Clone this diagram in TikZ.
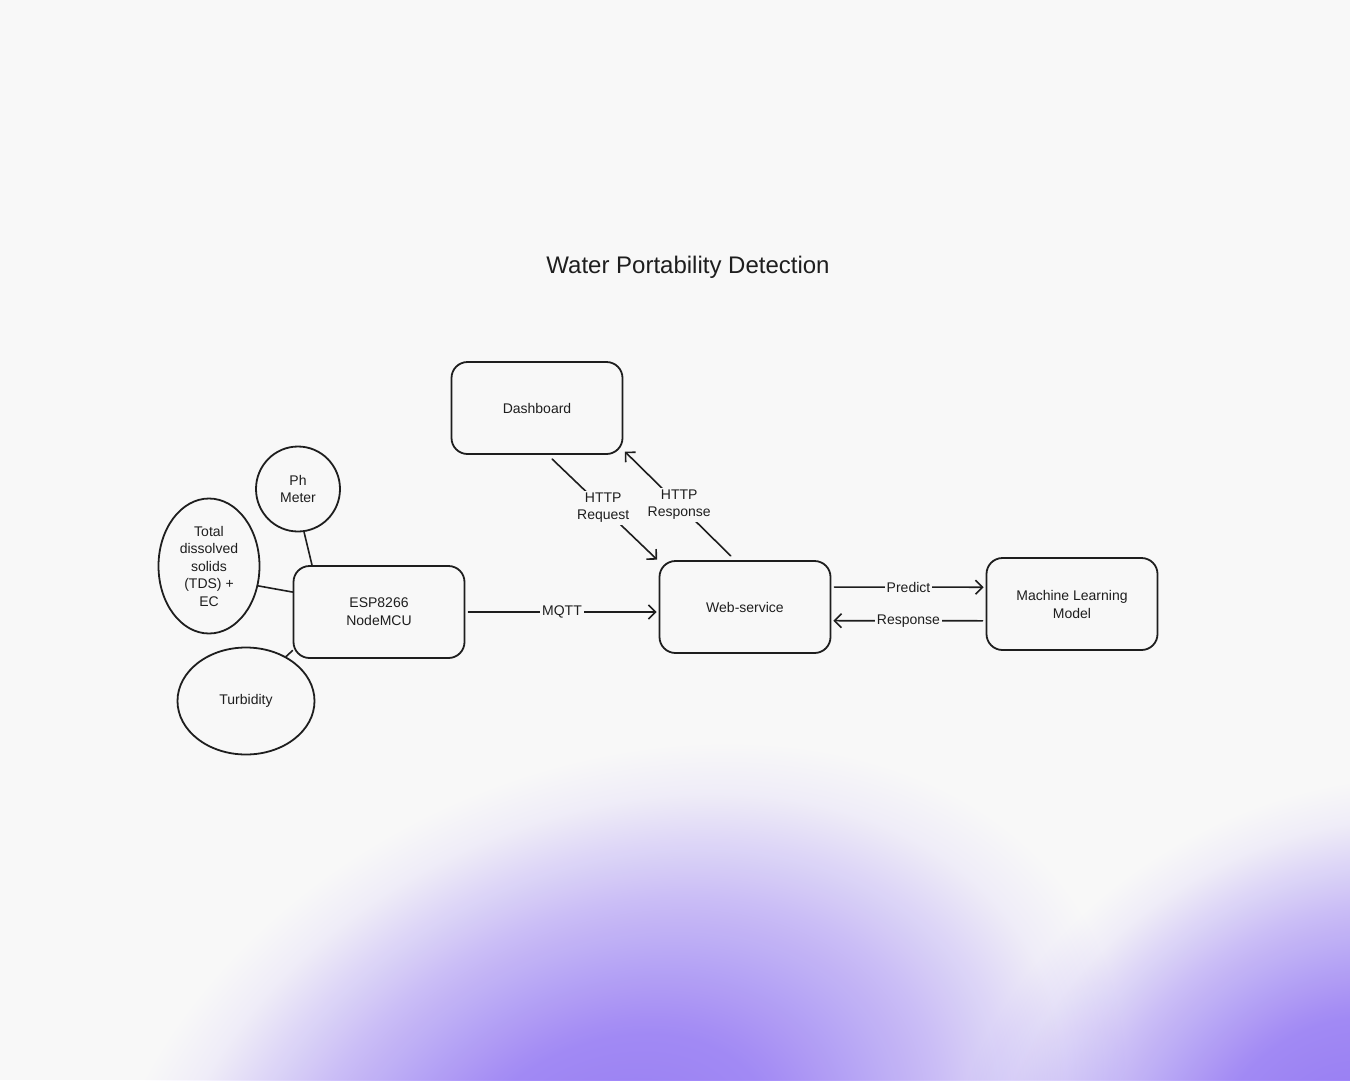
\documentclass[tikz,border=0pt]{standalone}
\usepackage{fontspec}
\setmainfont{Liberation Sans}
\usetikzlibrary{arrows.meta,shapes.geometric}
\definecolor{bgcol}{RGB}{248,248,248}
\definecolor{purp}{RGB}{154,126,250}
\definecolor{ink}{RGB}{30,30,30}
\pgfdeclareradialshading{blobshade}{\pgfpointorigin}{color(0bp)=(purp); color(8bp)=(purp!88!white); color(16bp)=(purp!46!white); color(22bp)=(purp!9!white); color(25bp)=(white); color(50bp)=(white)}

\begin{document}
\begin{tikzpicture}[x=1pt,y=-1pt,>={Straight Barb[length=7pt,width=14pt]},line cap=round,line join=round,
  box/.style={draw=ink,line width=1.8pt,rounded corners=16pt,minimum width=171pt,minimum height=92pt,align=center,font=\fontsize{14}{18}\selectfont,text=ink},
  sensor/.style={draw=ink,line width=1.8pt,ellipse,inner sep=0pt,align=center,font=\fontsize{14}{17.5}\selectfont,text=ink},
  wire/.style={draw=ink,line width=1.6pt},
  arrow/.style={->,draw=ink,line width=1.6pt,shorten >=2pt,shorten <=3pt},
  lbl/.style={fill=bgcol,inner sep=2pt,align=center,font=\fontsize{14}{17}\selectfont,text=ink}]
% background and purple glow
\fill[bgcol] (0,0) rectangle (1350,1080);
\begin{scope}
\clip (0,0) rectangle (1350,1080);
\begin{scope}[transform canvas={rotate around={25:(610,1170)}}]
\shade[shading=blobshade,blend mode=multiply] (610,1170) ellipse (540 and 400);
\end{scope}
\begin{scope}[transform canvas={rotate around={30:(1340,1130)}}]
\shade[shading=blobshade,blend mode=multiply] (1340,1130) ellipse (420 and 330);
\end{scope}
\end{scope}
% title
\node[font=\fontsize{24}{28}\selectfont,text=ink] (title) at (688,267) {Water Portability Detection};
% boxes
\node[box] (dash) at (537,408) {Dashboard};
\node[box] (web) at (745,607) {Web-service};
\node[box] (ml) at (1072,604) {Machine Learning\\Model};
\node[box] (esp) at (379,612) {ESP8266\\NodeMCU};
% sensors
\node[sensor,minimum width=84pt,minimum height=85pt] (ph) at (298,489) {Ph\\Meter};
\node[sensor,minimum width=101pt,minimum height=135pt] (tds) at (209,566) {Total\\dissolved\\solids\\(TDS) +\\EC};
\node[sensor,minimum width=137pt,minimum height=107pt] (turb) at (246,701) {Turbidity};
% sensor wires
\draw[wire] (ph.-82) -- (esp.145);
\draw[wire] (tds.-22) -- (esp.167);
\draw[wire] (turb.48) -- (esp.204);
% data flow
\draw[arrow] (esp.east) -- node[lbl] {MQTT} (esp.east -| web.west);
\draw[arrow,shorten <=6pt] (dash.-77) -- node[lbl] {HTTP\\Request} (web.152.6);
\draw[arrow,shorten <=6pt] (web.102) -- node[lbl] {HTTP\\Response} (dash.-26.8);
\draw[arrow] (web.13) -- node[lbl] {Predict} (ml.169);
\draw[arrow] (ml.191) -- node[lbl] {Response} (web.-9);
\end{tikzpicture}
\end{document}
